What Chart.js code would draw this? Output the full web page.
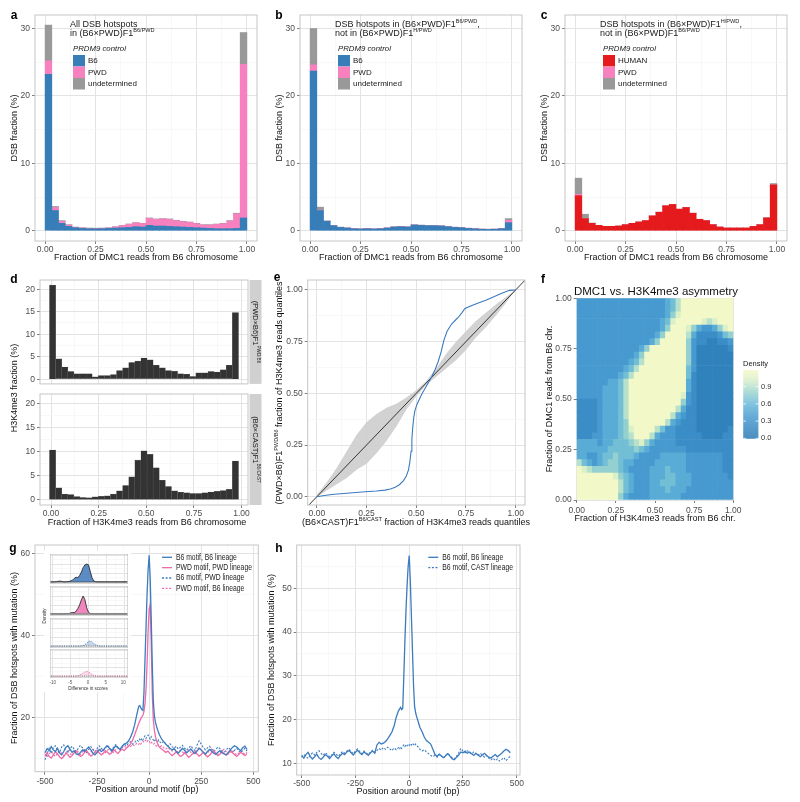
<!DOCTYPE html>
<html>
<head>
<meta charset="utf-8">
<script src="https://cdn.jsdelivr.net/npm/chart.js@4/dist/chart.umd.min.js"></script>
<style>
body{margin:0;background:#fff;overflow:hidden}
#fig{position:relative;width:800px;height:802px;background:#fff}
#fig canvas{position:absolute}
</style>
</head>
<body>
<div id="fig"></div>
<script>
// ---- a/b/c : DSB fraction histograms, 30 bins on [0,1]
const aB6  = [23.2,3.0,1.1,0.65,0.45,0.35,0.3,0.3,0.3,0.35,0.4,0.45,0.5,0.6,0.55,0.8,0.7,0.7,0.65,0.6,0.55,0.5,0.45,0.4,0.35,0.3,0.3,0.3,0.35,1.9];
const aPWD = [2.0,0.45,0.3,0.2,0.05,0.07,0.07,0.05,0.07,0.07,0.17,0.32,0.47,0.57,0.52,1.05,1.0,1.05,1.05,0.9,0.8,0.75,0.6,0.45,0.5,0.65,0.75,1.15,2.15,22.8];
const aUnd = [5.3,0.15,0.1,0.05,0.05,0.03,0.03,0.03,0.03,0.03,0.03,0.03,0.03,0.03,0.03,0.05,0.05,0.05,0.05,0.05,0.05,0.05,0.05,0.05,0.05,0.05,0.05,0.05,0.1,4.7];

const bB6  = [23.7,3.0,1.4,0.75,0.5,0.4,0.3,0.25,0.3,0.25,0.3,0.4,0.55,0.6,0.55,0.85,0.8,0.75,0.75,0.7,0.6,0.5,0.45,0.35,0.28,0.22,0.2,0.22,0.3,1.2];
const bPWD = [0.9,0.05,0.02,0.02,0.02,0.02,0.02,0.02,0.02,0.02,0.02,0.02,0.02,0.02,0.02,0.02,0.02,0.02,0.02,0.02,0.02,0.02,0.02,0.02,0.02,0.02,0.02,0.02,0.03,0.35];
const bUnd = [5.4,0.45,0.05,0.03,0.02,0.02,0.02,0.02,0.02,0.02,0.02,0.02,0.02,0.02,0.02,0.02,0.02,0.02,0.02,0.02,0.02,0.02,0.02,0.02,0.02,0.02,0.02,0.02,0.03,0.25];

const cHum = [5.2,1.8,1.1,0.8,0.65,0.65,0.7,0.9,1.1,1.3,1.5,2.2,2.75,3.7,3.9,3.2,3.45,2.6,1.7,1.5,0.9,0.55,0.4,0.4,0.4,0.4,0.65,0.9,1.9,6.8];
const cPWD = [0.2,0,0,0,0,0,0,0,0,0,0,0,0,0,0,0,0,0,0,0,0,0,0,0,0,0,0,0,0,0];
const cUnd = [2.4,0.65,0.05,0,0,0,0,0,0,0,0,0,0,0,0,0,0,0,0,0,0,0,0,0,0,0,0,0,0.05,0.2];

// ---- d : H3K4me3 fraction histograms, 31 bins
const dTop = [20.9,4.5,2.7,1.7,1.2,1.2,1.2,0.5,0.8,0.8,1.0,1.9,2.5,3.7,4.0,4.7,4.3,3.1,2.5,1.9,1.8,1.2,1.1,0.6,1.4,1.4,1.7,1.6,2.1,3.1,14.8];
const dBot = [10.4,2.5,1.2,1.1,0.7,0.5,0.45,0.65,0.75,0.85,1.2,1.9,3.0,4.8,8.3,10.2,9.5,6.7,4.1,2.8,1.9,1.6,1.5,1.35,1.35,1.5,1.65,1.8,1.95,2.2,8.1];

// ---- e : quantile-quantile curve and null ribbon
const qqX = [0,0.03,0.075,0.15,0.243,0.3,0.343,0.37,0.394,0.415,0.436,0.45,0.461,0.468,0.474,0.478,0.482,0.487,0.493,0.503,0.515,0.53,0.545,0.56,0.578,0.595,0.611,0.625,0.64,0.655,0.678,0.7,0.712,0.73,0.745,0.78,0.812,0.85,0.879,0.91,0.946,0.97,1];
const qqY = [0,0.005,0.011,0.017,0.024,0.028,0.032,0.037,0.046,0.058,0.078,0.1,0.13,0.17,0.22,0.28,0.33,0.38,0.415,0.445,0.47,0.5,0.525,0.55,0.58,0.615,0.655,0.7,0.76,0.8,0.835,0.857,0.868,0.89,0.91,0.925,0.937,0.95,0.962,0.975,0.99,0.998,1];
const ribX  = [0,0.05,0.1,0.15,0.2,0.25,0.3,0.35,0.4,0.45,0.5,0.55,0.6,0.65,0.7,0.75,0.8,0.85,0.9,0.95,1];
const ribLo = [0,0.03,0.06,0.09,0.13,0.16,0.21,0.27,0.34,0.42,0.485,0.54,0.58,0.62,0.66,0.71,0.77,0.82,0.875,0.935,1];
const ribHi = [0.01,0.07,0.14,0.22,0.3,0.36,0.4,0.43,0.45,0.48,0.515,0.56,0.62,0.69,0.75,0.8,0.85,0.89,0.93,0.965,1];

// ---- f : density raster, 30x30 cells, rows from top (y=1) to bottom (y=0), digit = level
const heatRows = [
"333333333333333334579999999999",
"333333333333333334579999999999",
"333333333333333334689999999999",
"333333333333333345899999878999",
"333333333333333346999864334689",
"333333333333333469999742222356",
"333333333333334699999632211223",
"333333333333469999999631111112",
"333333333334699999999631111111",
"333333333345799999999631111111",
"333333333457999999999531111111",
"333333334579999999999521111111",
"333333445799999999999421111111",
"333334445799999999999421111111",
"333334445799999999998321111111",
"222234445799999999996321111111",
"222234445799999999974221111111",
"222234445799999999743221111111",
"222234445699999997432221111111",
"222234445689999753322221111112",
"222334445679997433322222111122",
"444434455567864333322222222222",
"444444555556543333333222222222",
"443345565554333344444333333322",
"754345665443333444444333333322",
"987666665433334445444333333322",
"999999986543334445544433333332",
"999999997543334455544433333333",
"999999997543334445444333333333",
"999999996433334444443333333333"];
const densLevel = 0.13;
const densMax = 1.19;
const densTicks = [0, 0.3, 0.6, 0.9];

// ---- g/h : mutation profiles around motif
const seq = (a, b, s) => Array.from({length: Math.round((b - a) / s) + 1}, (_, i) => +(a + i * s).toFixed(3));
const posX = [].concat(seq(-500, -50, 10), seq(-45, 45, 5), seq(50, 470, 10));

const gB6B6 = [11.5,12.5,12.0,13.0,12.2,11.8,12.6,11.4,11.0,11.8, 12.8,13.2,12.4,11.6,12.0,11.2,11.0,11.6,12.2,11.8,
  12.4,12.9,12.2,11.4,11.0,11.6,12.3,11.8,12.1,12.8, 13.1,12.5,11.9,12.6,13.2,12.7,12.3,13.0,13.6,13.8, 14.3,15.2,16.4,18.2,20.6,22.8,
  23.0,22.4,22.0,21.8,26.0,34.0,42.0,50.0,56.0,59.5,54.0,44.0,33.0,24.0,20.5,19.0,18.0,17.2,16.4,
  15.8,14.8,14.2,13.6,13.1,12.6,12.2,12.5,11.8,11.4, 12.0,12.6,12.1,11.5,11.9,12.4,11.8,11.3,11.9,12.6,
  12.2,11.6,11.2,11.8,12.3,11.9,11.4,11.1,11.6,12.0, 11.5,11.2,11.0,11.6,12.2,12.8,13.2,12.9,12.4,12.0, 12.8,13.1,12.3];
const gPWDPWD = [10.8,11.5,10.6,10.2,11.0,11.8,11.2,10.5,10.1,10.6, 11.4,11.0,10.4,10.8,11.5,11.9,11.2,10.6,10.9,11.6,
  12.0,11.3,10.7,11.1,11.7,12.1,11.5,11.0,11.4,12.0, 11.6,11.1,11.5,12.2,11.8,11.3,11.9,12.4,12.0,12.6, 13.0,13.6,14.5,15.8,17.2,18.6,
  19.2,19.8,20.2,20.6,21.5,23.5,27.0,33.0,41.0,46.5,47.5,38.0,26.0,19.5,17.0,15.5,14.5,13.8,13.2,
  12.8,12.4,12.0,11.6,11.9,11.3,10.8,11.2,11.7,11.1, 10.6,10.9,11.5,11.0,10.4,10.8,11.4,11.8,11.2,10.7,
  11.1,11.6,11.0,10.5,10.9,11.5,11.9,11.3,10.8,11.2, 11.7,11.3,10.9,11.4,12.0,11.5,11.0,10.6,11.1,11.6, 11.2,10.8,11.3];
const gB6PWD = [9.8,11.2,12.6,11.4,12.8,13.2,12.0,11.5,12.9,13.4, 12.2,11.6,12.5,13.1,12.4,11.8,12.6,13.3,12.7,12.0,
  11.6,12.4,13.0,12.3,11.7,12.5,13.2,12.6,12.1,12.8, 13.4,12.7,12.2,12.9,13.5,12.8,12.4,13.1,13.6,13.2, 13.8,14.2,13.6,14.0,14.6,14.2,
  14.8,14.4,15.0,14.6,15.2,15.6,15.0,15.4,15.8,15.2,14.8,15.4,15.0,14.6,14.2,14.8,14.4,14.0,14.6,
  14.2,13.8,14.3,13.6,13.2,13.7,13.0,12.6,13.1,12.4, 12.8,13.3,12.6,12.1,12.7,13.2,12.5,12.0,13.4,14.4,
  13.6,12.8,12.2,12.7,13.1,12.4,11.8,12.3,12.9,12.5, 12.0,11.6,12.2,12.8,12.3,11.7,12.1,12.6,12.0,11.5, 12.1,12.6,11.9];
const gPWDB6 = [11.0,10.4,11.2,11.8,11.1,10.6,11.3,11.9,11.4,10.8, 11.5,12.0,11.3,10.9,11.6,12.2,11.7,11.1,11.8,12.3,
  11.6,11.0,11.7,12.4,11.9,11.3,11.8,12.5,12.0,11.5, 12.1,12.6,12.0,11.6,12.3,12.8,12.2,12.7,13.2,12.8, 13.3,13.0,13.5,13.2,13.8,13.5,
  13.9,13.6,14.0,14.3,14.0,14.4,14.6,14.2,14.6,14.3,13.9,14.2,13.8,13.5,13.8,13.4,13.1,13.5,13.2,
  12.9,13.2,12.7,12.4,12.8,12.3,11.9,12.4,12.0,11.6, 12.1,11.7,11.3,11.8,12.2,11.6,11.2,11.7,12.3,12.8,
  12.2,11.6,11.1,11.5,12.0,12.6,12.1,11.5,11.0,11.4, 11.9,12.4,11.8,11.2,11.6,12.1,11.5,11.0,11.4,11.9, 11.5,11.1,11.6];

const hB6B6 = [11.8,11.2,12.0,12.5,11.6,11.0,11.5,12.1,11.3,10.9, 11.4,12.0,11.6,11.1,11.7,12.2,11.5,11.1,11.8,12.3,
  12.0,12.6,12.9,12.4,11.9,12.5,13.0,12.4,12.0,12.6, 12.2,11.8,12.4,12.8,12.3,14.2,14.8,14.4,14.6,15.0, 15.6,16.4,17.2,18.6,20.6,22.0,
  22.4,22.8,22.3,22.6,30.0,38.0,45.0,50.5,55.0,57.5,52.0,44.0,36.0,28.0,23.0,21.5,20.6,19.8,19.0,
  18.2,17.2,16.0,15.2,14.8,14.4,13.2,12.0,11.6,12.1, 11.7,11.3,11.8,12.2,11.6,11.0,10.8,11.4,11.9,12.6,
  12.4,12.8,12.3,12.6,12.2,11.8,12.3,11.9,11.5,11.9, 12.3,11.8,11.4,11.2,11.6,12.0,11.5,11.9,12.3,12.8, 13.2,12.9,12.4];
const hB6CAST = [11.4,12.0,11.6,11.1,11.8,12.4,11.9,12.5,12.9,12.3, 11.8,12.4,12.0,11.5,11.9,12.5,12.1,11.6,12.2,12.7,
  12.3,12.8,13.2,12.7,12.2,12.8,13.3,12.7,12.2,12.8, 12.4,12.0,12.6,13.0,12.5,12.9,13.4,13.0,13.6,13.2, 13.7,13.3,12.9,13.5,13.1,13.6,
  13.2,13.8,13.4,13.9,14.2,13.8,14.3,14.0,14.4,14.1,14.5,14.2,14.6,14.3,14.0,14.4,14.1,13.8,13.5,
  13.2,12.8,13.1,12.6,12.2,11.8,11.5,11.9,11.4,12.0, 11.6,11.2,11.8,12.3,11.7,11.3,11.0,11.6,12.4,13.4,
  12.8,12.4,12.9,12.5,12.1,12.6,12.2,11.8,12.3,11.9, 11.4,11.8,11.2,10.8,11.2,10.6,11.0,10.5,10.9,11.3, 10.6,11.2,11.6];

// ---- g inset : densities of score differences
const insX = seq(-11, 11, 0.5);
const insB6B6 = [.01,.01,.01,.01,.02, .04,.05,.03,.01,.01, .02,.03,.06,.1,.2, .27,.24,.36,.55,.8, .95,1.0,.96,.6,.24, .06,.02,.01,.01,.01, .01,.01,.01,.01,.01, .01,.01,.01,.01,.01, .01,.01,.01,.01,.01];
const insPWDPWD = [.01,.01,.01,.01,.01, .01,.01,.01,.01,.01, .02,.03,.06,.09,.08, .15,.3,.5,.78,1.0, .8,.35,.1,.03,.01, .01,.01,.01,.01,.01, .01,.01,.01,.01,.01, .01,.01,.01,.01,.01, .01,.01,.01,.01,.01];
const insB6PWD = [0,0,0,0,0, 0,0,0,0,0, 0,0,0,0,0, 0,0,0,.01,.03, .08,.15,.25,.3,.2, .14,.08,.03,.01,0, 0,0,0,0,0, 0,0,0,0,0, 0,0,0,0,0];
const insPWDB6 = [0,0,0,0,0, 0,0,0,0,0, 0,0,0,0,0, .01,.02,.06,.12,.18, .24,.28,.25,.18,.1, .05,.02,0,0,0, 0,0,0,0,0, 0,0,0,0,0, 0,0,0,0,0];

const BLUE = '#377eb8', PINK = '#f781bf', GREY = '#999999', RED = '#e41a1c';
const LBLUE = '#3b7bbf', LPINK = '#ee6aa8';
const FONT = '"Liberation Sans", Arial, Helvetica, sans-serif';

Chart.defaults.font.family = FONT;
Chart.defaults.color = '#4d4d4d';
Chart.defaults.animation = false;
Chart.defaults.events = [];
Chart.defaults.plugins.legend.display = false;
Chart.defaults.plugins.tooltip.enabled = false;

const fig = document.getElementById('fig');
const xy = (xs, ys) => ys.map((y, i) => ({x: xs[i], y}));
const centers = (n, start, w) => Array.from({length: n}, (_, i) => start + w * (i + 0.5));
const f2 = v => v.toFixed(2);
const near = (v, s) => Math.abs(v / s - Math.round(v / s)) < 1e-6;

function axis(min, max, major, size, o = {}) {
  const maj = c => c.tick && near(c.tick.value, major);
  return {
    type: 'linear', min, max, offset: false, stacked: !!o.stacked,
    border: {display: false},
    afterFit: s => { if (s.isHorizontal()) s.height = size; else s.width = size; },
    ticks: {
      display: o.labels !== false, stepSize: major / 2, includeBounds: false, autoSkip: false,
      maxTicksLimit: 200, maxRotation: 0, minRotation: 0, padding: o.pad ?? 2,
      color: '#4d4d4d', font: {size: o.fs || 8.5},
      callback: v => near(v, major) ? (o.fmt ? o.fmt(v) : String(v)) : ''
    },
    grid: {
      offset: false, drawTicks: o.labels !== false, tickLength: 3,
      color: c => maj(c) ? '#e3e3e3' : '#f3f3f3',
      lineWidth: c => maj(c) ? 1 : 0.6,
      tickColor: c => maj(c) ? '#808080' : 'rgba(0,0,0,0)'
    }
  };
}

function rich(ctx, segs, x, y, size, o = {}) {
  ctx.save();
  ctx.translate(x, y);
  if (o.rot) ctx.rotate(o.rot);
  if (o.sx) ctx.scale(o.sx, 1);
  const st = o.style || '';
  const parts = segs.map(s => Array.isArray(s) ? {t: s[0], sz: size * 0.62, dy: -size * 0.36} : {t: s, sz: size, dy: 0});
  let w = 0;
  for (const p of parts) { ctx.font = `${st} ${p.sz}px ${FONT}`; p.w = ctx.measureText(p.t).width; w += p.w; }
  let cx = o.align === 'left' ? 0 : o.align === 'right' ? -w : -w / 2;
  ctx.textAlign = 'left'; ctx.textBaseline = 'middle'; ctx.fillStyle = o.color || '#1a1a1a';
  for (const p of parts) { ctx.font = `${st} ${p.sz}px ${FONT}`; ctx.fillText(p.t, cx, p.dy); cx += p.w; }
  ctx.restore();
}
const letter = (ctx, t, x, y) => rich(ctx, [t], x, y, 12, {style: 'bold', color: '#000'});
const xTitle = (ctx, segs, x, y) => rich(ctx, segs, x, y, 9, {color: '#111'});
const yTitle = (ctx, segs, x, y) => rich(ctx, segs, x, y, 9, {rot: -Math.PI / 2, color: '#111'});

const frame = {id: 'frame', afterDatasetsDraw(c) {
  const r = c.chartArea, ctx = c.ctx;
  ctx.save(); ctx.strokeStyle = c.$frameColor || '#c6c6c6'; ctx.lineWidth = 1;
  ctx.strokeRect(r.left, r.top, r.right - r.left, r.bottom - r.top); ctx.restore();
}};

function draw(x, y, w, h, cfg, deco, frameColor) {
  const cv = document.createElement('canvas');
  cv.width = w; cv.height = h;
  cv.style.left = x + 'px'; cv.style.top = y + 'px';
  cv.style.width = w + 'px'; cv.style.height = h + 'px';
  fig.appendChild(cv);
  cfg.options = Object.assign({responsive: false, maintainAspectRatio: false}, cfg.options);
  cfg.plugins = [frame, {id: 'deco', afterDraw(c) {
    if (!deco) return;
    const ctx = c.ctx; ctx.save(); ctx.translate(-x, -y); deco(ctx, c); ctx.restore();
  }}];
  const ch = new Chart(cv, cfg);
  if (frameColor) { ch.$frameColor = frameColor; ch.draw(); }
  return ch;
}

// ---------- a, b, c ----------
const binsABC = centers(30, 0, 1 / 30);
function histPanel(ox, lt, title, series) {
  draw(ox, 0, 265, 265, {
    type: 'bar',
    data: {datasets: series.map(([label, color, vals]) => ({
      label, data: xy(binsABC, vals), backgroundColor: color, borderWidth: 0,
      barPercentage: 1, categoryPercentage: 1}))},
    options: {
      layout: {padding: {top: 15, right: 8, left: 0, bottom: 0}},
      scales: {
        x: axis(-0.05, 1.05, 0.25, 24, {stacked: true, fmt: f2, pad: 1}),
        y: axis(-1.52, 32, 10, 35, {stacked: true})
      }
    }
  }, ctx => {
    letter(ctx, lt, ox + 14, 16);
    title.forEach((segs, i) => rich(ctx, segs, ox + 70, 25 + i * 8.8, 9, {align: 'left'}));
    rich(ctx, ['PRDM9 control'], ox + 73, 49, 7.8, {align: 'left', style: 'italic'});
    series.forEach(([label, color], i) => {
      ctx.fillStyle = color; ctx.fillRect(ox + 73, 55 + i * 11.5, 12, 11.5);
      rich(ctx, [label], ox + 88, 61 + i * 11.5, 8, {align: 'left'});
    });
    xTitle(ctx, ['Fraction of DMC1 reads from B6 chromosome'], ox + 146, 258);
    yTitle(ctx, ['DSB fraction (%)'], ox + 15, 128);
  });
}
histPanel(0, 'a', [['All DSB hotspots'], ['in (B6×PWD)F1', ['B6/PWD']]],
  [['B6', BLUE, aB6], ['PWD', PINK, aPWD], ['undetermined', GREY, aUnd]]);
histPanel(265, 'b', [['DSB hotspots in (B6×PWD)F1', ['B6/PWD'], ','], ['not in (B6×PWD)F1', ['H/PWD']]],
  [['B6', BLUE, bB6], ['PWD', PINK, bPWD], ['undetermined', GREY, bUnd]]);
histPanel(530, 'c', [['DSB hotspots in (B6×PWD)F1', ['H/PWD'], ','], ['not in (B6×PWD)F1', ['B6/PWD']]],
  [['HUMAN', RED, cHum], ['PWD', PINK, cPWD], ['undetermined', GREY, cUnd]]);

// ---------- d ----------
const binsD = centers(31, -0.008, 0.032);
const strip = (ctx, c, segs) => {
  const r = c.chartArea;
  ctx.fillStyle = '#d0d0d0';
  ctx.fillRect(r.right + 1.5, r.top, 12, r.bottom - r.top);
  rich(ctx, segs, r.right + 7.5, (r.top + r.bottom) / 2, 7.5, {rot: Math.PI / 2});
};
const dBar = vals => ({data: xy(binsD, vals), backgroundColor: '#333333', borderColor: '#6a6a6a',
  borderWidth: 0.4, barPercentage: 1, categoryPercentage: 1});
draw(0, 265, 265, 126, {
  type: 'bar', data: {datasets: [dBar(dTop)]},
  options: {layout: {padding: {top: 15, right: 17}},
    scales: {x: axis(-0.058, 1.034, 0.25, 0, {labels: false}), y: axis(-1.05, 22.05, 5, 40)}}
}, (ctx, c) => {
  letter(ctx, 'd', 14, 280);
  ctx.save(); ctx.translate(0, 265); strip(ctx, c, ['(PWD×B6)F1', ['PWD/B6']]); ctx.restore();
});
draw(0, 265, 265, 270, {
  type: 'bar', data: {datasets: [dBar(dBot)]},
  options: {layout: {padding: {top: 129, right: 17}},
    scales: {x: axis(-0.058, 1.034, 0.25, 30, {fmt: f2, pad: 1}), y: axis(-1.05, 22.05, 5, 40)}}
}, (ctx, c) => {
  ctx.save(); ctx.translate(0, 265); strip(ctx, c, ['(B6×CAST)F1', ['B6/CAST']]); ctx.restore();
  xTitle(ctx, ['Fraction of H3K4me3 reads from B6 chromosome'], 147, 523);
  yTitle(ctx, ['H3K4me3 fraction (%)'], 15, 388);
});

// ---------- e ----------
draw(265, 265, 265, 270, {
  type: 'line',
  data: {datasets: [
    {data: xy(qqX, qqY), borderColor: LBLUE, borderWidth: 1.1, pointRadius: 0, order: 0},
    {data: [{x: -0.1, y: -0.1}, {x: 1.1, y: 1.1}], borderColor: '#222', borderWidth: 0.9, pointRadius: 0, order: 1},
    {data: xy(ribX, ribLo), borderWidth: 0, pointRadius: 0, order: 3},
    {data: xy(ribX, ribHi), borderWidth: 0, pointRadius: 0, order: 2, fill: '-1', backgroundColor: 'rgba(205,205,205,0.9)'}
  ]},
  options: {layout: {padding: {top: 15, right: 5}},
    scales: {x: axis(-0.046, 1.047, 0.25, 30, {fmt: f2, pad: 1}), y: axis(-0.04, 1.048, 0.25, 42.7, {fmt: f2})}}
}, ctx => {
  letter(ctx, 'e', 277, 278);
  xTitle(ctx, ['(B6×CAST)F1', ['B6/CAST'], ' fraction of H3K4me3 reads quantiles'], 416, 523);
  yTitle(ctx, ['(PWD×B6)F1', ['PWD/B6'], ' fraction of H3K4me3 reads quantiles'], 280, 393);
});

// ---------- f ----------
const densStops = [[0, [38, 118, 178]], [0.3, [66, 150, 205]], [0.5, [100, 182, 216]], [0.7, [160, 215, 205]], [0.85, [215, 238, 200]], [1, [245, 249, 200]]];
function densColor(v) {
  const t = Math.max(0, Math.min(1, v / densMax));
  for (let i = 1; i < densStops.length; i++) {
    const [t1, c1] = densStops[i];
    if (t <= t1) {
      const [t0, c0] = densStops[i - 1], k = (t - t0) / (t1 - t0);
      return `rgb(${c0.map((c, j) => Math.round(c + (c1[j] - c) * k)).join(',')})`;
    }
  }
  return 'rgb(245,249,200)';
}
const nC = heatRows[0].length, nR = heatRows.length;
const heatCells = [];
heatRows.forEach((row, r) => [...row].forEach((ch, c) =>
  heatCells.push({x: (c + 0.5) / nC, y: [1 - (r + 1) / nR, 1 - r / nR], v: +ch * densLevel})));
draw(530, 265, 270, 270, {
  type: 'bar',
  data: {datasets: [{data: heatCells, backgroundColor: heatCells.map(d => densColor(d.v)),
    borderWidth: 0, barPercentage: 1, categoryPercentage: 1}]},
  options: {layout: {padding: {top: 33.3, right: 66.7}},
    scales: {x: axis(0, 1, 0.25, 35, {fmt: f2, pad: 3}), y: axis(0, 1, 0.25, 46.7, {fmt: f2})}}
}, ctx => {
  letter(ctx, 'f', 543, 280);
  rich(ctx, ['DMC1 vs. H3K4me3 asymmetry'], 656, 292, 11.5, {color: '#111'});
  xTitle(ctx, ['Fraction of H3K4me3 reads from B6 chr.'], 655, 519);
  yTitle(ctx, ['Fraction of DMC1 reads from B6 chr.'], 550, 399);
  rich(ctx, ['Density'], 743, 364, 7.5, {align: 'left'});
  const top = 370, bot = 438.3;
  for (let yy = top; yy < bot; yy += 0.5) {
    ctx.fillStyle = densColor((bot - yy) / (bot - top) * densMax);
    ctx.fillRect(743.3, yy, 15, 0.6);
  }
  densTicks.forEach(v => {
    const yy = bot - v / densMax * (bot - top);
    ctx.strokeStyle = '#fff'; ctx.lineWidth = 0.8;
    ctx.beginPath(); ctx.moveTo(743.3, yy); ctx.lineTo(746, yy); ctx.moveTo(755.6, yy); ctx.lineTo(758.3, yy); ctx.stroke();
    rich(ctx, [v.toFixed(1)], 761, yy, 7.5, {align: 'left', color: '#333'});
  });
}, 'rgba(0,0,0,0)');

// ---------- g ----------
const lineDs = (ys, color, dash) => ({data: xy(posX, ys), borderColor: color, borderWidth: dash ? 1.1 : 1.3,
  borderDash: dash || [], pointRadius: 0, tension: 0});
const lineLegend = (ctx, items, x, y0, dy) => items.forEach(([t, color, dash], i) => {
  const yy = y0 + i * dy;
  ctx.save(); ctx.strokeStyle = color; ctx.lineWidth = 1.3; ctx.setLineDash(dash);
  ctx.beginPath(); ctx.moveTo(x, yy); ctx.lineTo(x + 10, yy); ctx.stroke(); ctx.restore();
  rich(ctx, [t], x + 14, yy, 8.5, {align: 'left', sx: 0.8, color: '#222'});
});
const DOT = [2, 1.6];
draw(0, 535, 265, 267, {
  type: 'line',
  data: {datasets: [
    lineDs(gB6B6, LBLUE), lineDs(gPWDPWD, LPINK), lineDs(gB6PWD, LBLUE, DOT), lineDs(gPWDB6, LPINK, DOT)
  ]},
  options: {layout: {padding: {top: 10, right: 6.7}},
    scales: {x: axis(-548, 524, 250, 30.3, {pad: 2.3}), y: axis(6.9, 62, 20, 35)}}
}, ctx => {
  letter(ctx, 'g', 13, 549);
  xTitle(ctx, ['Position around motif (bp)'], 147, 790);
  yTitle(ctx, ['Fraction of DSB hotspots with mutation (%)'], 15, 658);
  lineLegend(ctx, [['B6 motif, B6 lineage', LBLUE, []], ['PWD motif, PWD lineage', LPINK, []],
    ['B6 motif, PWD lineage', LBLUE, DOT], ['PWD motif, B6 lineage', LPINK, DOT]], 162, 557.3, 10.35);
  ctx.fillStyle = '#fff'; ctx.fillRect(44, 551, 87, 141);
  rich(ctx, ['Density'], 45, 616, 4.5, {rot: -Math.PI / 2, color: '#333'});
  [-10, -5, 0, 5, 10].forEach(v => rich(ctx, [String(v)], 88 + v * 3.53, 683, 4.5, {color: '#555'}));
  rich(ctx, ['Difference in scores'], 88, 688.5, 4.5, {color: '#333'});
});

// inset panels of g
const insets = [
  [554.3, 30, insB6B6, '#1a1a1a', 'rgba(74,128,190,0.9)', []],
  [585.7, 30, insPWDPWD, '#1a1a1a', 'rgba(240,128,185,0.95)', []],
  [617.7, 30, insB6PWD, '#3f78b3', 'rgba(74,128,190,0.3)', [1.2, 1.2]],
  [649.3, 29, insPWDB6, '#e86aa6', 'rgba(240,128,185,0.3)', [1.2, 1.2]]
];
insets.forEach(([top, h, ys, line, fill, dash], k) => {
  draw(50, top, 78, h, {
    type: 'line',
    data: {datasets: [{data: xy(insX, ys), borderColor: line, borderWidth: 0.8, borderDash: dash,
      pointRadius: 0, fill: 'origin', backgroundColor: fill}]},
    options: {layout: {padding: 0},
      scales: {x: axis(-10.8, 11.1, 5, 0, {labels: false}), y: axis(-0.11, 1.56, 0.5, 0, {labels: false})}}
  }, (ctx, c) => {
    const y0 = c.scales.y.getPixelForValue(0), r = c.chartArea;
    ctx.save(); ctx.translate(50, top);
    ctx.strokeStyle = k === 1 ? '#8a8a8a' : '#333'; ctx.lineWidth = k === 1 ? 1.4 : 0.6;
    if (k > 1) ctx.setLineDash([1, 1.2]);
    ctx.beginPath(); ctx.moveTo(r.left + 1, y0); ctx.lineTo(r.right - 1, y0); ctx.stroke();
    ctx.restore();
  }, '#b5b5b5');
});

// ---------- h ----------
draw(265, 535, 265, 267, {
  type: 'line',
  data: {datasets: [lineDs(hB6B6, LBLUE), lineDs(hB6CAST, LBLUE, DOT)]},
  options: {layout: {padding: {top: 10, right: 10}},
    scales: {x: axis(-523, 515, 250, 27, {pad: 0.5}), y: axis(7.33, 59.9, 10, 31.7)}}
}, ctx => {
  letter(ctx, 'h', 279, 549);
  xTitle(ctx, ['Position around motif (bp)'], 408, 792);
  yTitle(ctx, ['Fraction of DSB hotspots with mutation (%)'], 272, 660);
  lineLegend(ctx, [['B6 motif, B6 lineage', LBLUE, []], ['B6 motif, CAST lineage', LBLUE, DOT]], 428.3, 557.3, 10.4);
});
</script>
</body>
</html>
